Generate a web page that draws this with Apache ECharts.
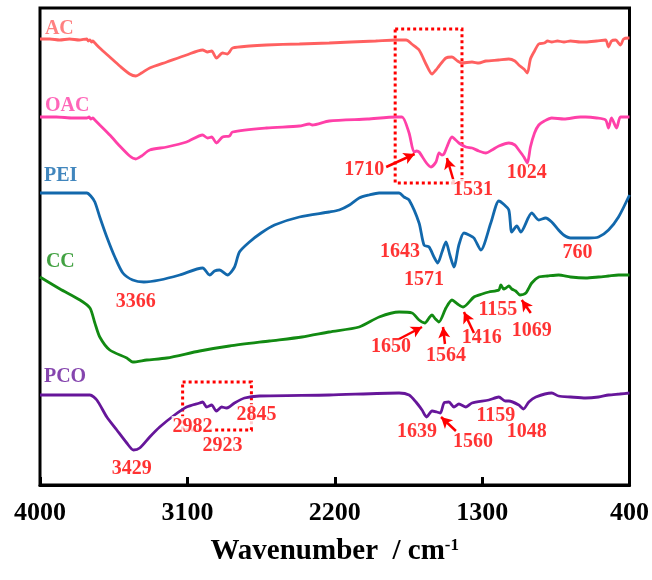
<!DOCTYPE html>
<html><head><meta charset="utf-8">
<script src="https://cdn.jsdelivr.net/npm/echarts@6/dist/echarts.min.js"></script>
<style>html,body{margin:0;padding:0;background:#fff}#c{width:652px;height:580px}</style>
</head><body><div id="c"></div>
<script>
// x ticks (wavenumber, cm-1)
const xTicks = [4000, 3100, 2200, 1300, 400];
const seriesNames = ['AC', 'OAC', 'PEI', 'CC', 'PCO'];

// [wavenumber, offset transmittance]
const acData = [[4000,446],[3940,446],[3880,445],[3820,446],[3760,445],[3714,446],[3705,444],[3695,445],[3685,443],[3677,444],[3665,442],[3635,437],[3574,428],[3513,419],[3452,411],[3415,409],[3380,412],[3330,417],[3226,423],[3105,430],[3007,435],[2977,433],[2952,434],[2922,427],[2885,432],[2855,431],[2843,433],[2824,437],[2720,439],[2617,440],[2416,441],[2234,442],[2100,443],[1950,444],[1825,445],[1764,445],[1730,441],[1685,435],[1640,420],[1606,411],[1582,415],[1563,419],[1521,427],[1484,428],[1450,424],[1424,422],[1362,423],[1320,422],[1277,424],[1200,425],[1137,426],[1100,424],[1076,420],[1045,416],[1024,412],[1005,426],[980,434],[954,441],[920,442],[900,444],[875,443],[840,444],[800,443],[760,444],[700,443],[668,443],[600,444],[546,445],[528,438],[510,444],[485,445],[455,440],[436,446],[406,447],[400,447]];
const oacData = [[4000,368],[3900,368],[3800,367],[3714,367],[3700,368],[3690,366],[3677,367],[3665,365],[3635,360],[3574,350],[3513,339],[3452,329],[3415,326],[3380,329],[3330,335],[3226,338],[3105,343],[3007,350],[2977,347],[2952,348],[2922,342],[2885,348],[2843,349],[2824,353],[2617,357],[2416,359],[2355,361],[2337,360],[2234,364],[2000,366],[1825,368],[1789,368],[1746,352],[1716,333],[1700,334],[1685,333],[1640,322],[1612,318],[1582,323],[1563,332],[1545,330],[1533,331],[1515,338],[1484,348],[1442,342],[1399,338],[1362,337],[1320,334],[1277,332],[1240,335],[1198,339],[1137,342],[1100,340],[1076,335],[1045,328],[1024,322],[1005,338],[980,352],[954,360],[920,364],[875,367],[800,366],[700,368],[668,368],[600,367],[546,365],[528,357],[510,367],[479,357],[455,368],[406,368],[400,368]];
const peiData = [[4000,292],[3800,292],[3714,292],[3690,289],[3665,283],[3635,268],[3592,248],[3543,228],[3494,212],[3434,205],[3366,203],[3269,205],[3147,210],[3007,217],[2964,210],[2934,214],[2904,215],[2855,210],[2812,218],[2782,233],[2721,243],[2650,252],[2568,260],[2416,268],[2234,273],[2173,275],[2110,280],[2051,287],[1990,290],[1929,292],[1807,292],[1777,288],[1746,285],[1685,262],[1655,240],[1624,238],[1594,228],[1571,222],[1545,233],[1521,243],[1497,230],[1472,218],[1442,240],[1411,252],[1380,250],[1350,247],[1308,235],[1247,262],[1198,284],[1170,281],[1137,275],[1119,253],[1088,259],[1064,253],[997,272],[954,265],[912,267],[875,263],[833,255],[802,250],[760,247],[700,247],[650,247],[589,248],[528,255],[467,268],[400,290]];
const ccData = [[4000,208],[3878,196],[3756,185],[3695,177],[3665,162],[3635,148],[3574,135],[3470,127],[3434,123],[3348,125],[3226,127],[3025,134],[2843,139],[2599,144],[2400,148],[2234,153],[2051,158],[1929,168],[1807,173],[1728,172],[1685,165],[1650,162],[1620,168],[1606,170],[1585,166],[1564,163],[1521,177],[1484,185],[1450,181],[1416,178],[1350,188],[1300,191],[1259,193],[1198,195],[1186,200],[1168,196],[1155,197],[1137,199],[1119,196],[1095,194],[1069,190],[1033,192],[997,202],[954,208],[900,209],[833,210],[760,208],[668,207],[589,208],[528,209],[467,210],[400,210]];
const pcoData = [[4000,90],[3800,90],[3695,90],[3653,85],[3592,68],[3531,55],[3470,42],[3429,35],[3391,37],[3330,48],[3269,58],[3178,70],[3105,78],[3025,82],[3007,83],[2982,78],[2952,80],[2923,74],[2891,78],[2861,77],[2845,78],[2812,82],[2751,87],[2660,89],[2234,90],[1807,92],[1746,90],[1704,83],[1667,75],[1639,68],[1606,74],[1576,73],[1555,72],[1533,82],[1503,83],[1472,78],[1442,81],[1399,78],[1362,82],[1259,85],[1198,88],[1159,84],[1137,84],[1076,80],[1048,76],[1015,83],[972,88],[875,92],[833,89],[760,88],[668,87],[589,88],[528,90],[460,91],[400,92]];

// annotations: [text, wavenumber, value, whiteBackground]
const peakLabels = [['1710',2020,315,0],['1531',1356,295,1],['1024',1027,312,0],['1643',1801,233,0],['1571',1655,205,0],['760',717,232,0],['3366',3415,183,0],['1650',1856,138,0],['1564',1521,129,0],['1416',1302,147,0],['1155',1204,175,0],['1069',997,154,0],['2982',3068,58,1],['2923',2885,39,0],['2845',2678,70,1],['3429',3440,16,0],['1639',1697,53,0],['1560',1356,43,0],['1159',1216,69,0],['1048',1027,53,0]];
const nameLabels = [['AC',3970,456],['OAC',3970,379],['PEI',3976,309],['CC',3964,223],['PCO',3976,108]];
// arrows: [fromW, fromV, toW, toV]
const arrows = [[1886,318,1712,331],[1472,303,1515,327],[1807,146,1667,158],[1527,141,1539,158],[1350,152,1411,173],[1003,172,1058,185],[1460,54,1551,68]];
// dotted boxes: [w1, v1, w2, v2]
const boxes = [[1831,456,1423,302],[3129,103,2709,55]];

const colors = ['#FF6060', '#FF40A8', '#1268AC', '#128A12', '#66169A'];
const dataSets = [acData, oacData, peiData, ccData, pcoData];
const FONT = '"Liberation Serif", "Times New Roman", serif';

const chart = echarts.init(document.getElementById('c'), null, {renderer: 'canvas'});
const series = dataSets.map((d, i) => ({
  type: 'line', name: seriesNames[i], data: d, showSymbol: false, smooth: 0.25,
  lineStyle: {color: colors[i], width: 2.8}, itemStyle: {color: colors[i]}, z: 3, silent: true
}));
// markers (arrows + dotted boxes) on a low-z empty-looking series
series.push({
  type: 'scatter', symbolSize: 0, silent: true, z: 2,
  data: [[4000, 0]],
  markLine: {
    silent: true, animation: false, symbol: ['none', 'arrow'], symbolSize: [9, 11],
    label: {show: false},
    lineStyle: {color: '#FF0000', width: 2.5, type: 'solid'},
    data: arrows.map(a => [{coord: [a[0], a[1]]}, {coord: [a[2], a[3]]}])
  },
  markArea: {
    silent: true, animation: false,
    itemStyle: {color: 'rgba(0,0,0,0)', borderColor: '#FF0000', borderWidth: 3, borderType: 'dotted'},
    data: boxes.map(b => [{coord: [b[0], b[1]]}, {coord: [b[2], b[3]]}])
  }
});
// text labels on top
series.push({
  type: 'scatter', symbolSize: 0, silent: true, z: 20, zlevel: 1,
  data: peakLabels.map(p => ({name: p[0], value: [p[1], p[2]],
      label: p[3] ? {backgroundColor: '#ffffff', padding: [1, 1]} : {}})).concat(
    nameLabels.map((p, i) => ({name: p[0], value: [p[1], p[2]],
      label: {align: 'left', color: colors[i]}}))),
  label: {show: true, position: [0, 0], align: 'center', verticalAlign: 'middle',
    formatter: '{b}', fontFamily: FONT, fontWeight: 'bold', fontSize: 20, color: '#FF0000'}
});

chart.setOption({
  animation: false,
  backgroundColor: '#fff',
  grid: {left: 40, right: 20, top: 8, bottom: 95, show: true, borderColor: '#000', borderWidth: 3, backgroundColor: 'transparent'},
  xAxis: {
    type: 'value', inverse: true, min: 400, max: 4000,
    axisLine: {show: true, lineStyle: {color: '#000', width: 3}},
    axisTick: {show: true, inside: true, length: 8, customValues: xTicks, lineStyle: {color: '#000', width: 3}},
    axisLabel: {customValues: xTicks, formatter: v => String(v), fontFamily: FONT, fontWeight: 'bold', fontSize: 26, color: '#000', margin: 15},
    splitLine: {show: false},
    name: '{t|Wavenumber  / cm}{s|-1}', nameLocation: 'middle', nameGap: 52,
    nameTextStyle: {rich: {
      t: {fontFamily: FONT, fontWeight: 'bold', fontSize: 29, color: '#000'},
      s: {fontFamily: FONT, fontWeight: 'bold', fontSize: 17, color: '#000', verticalAlign: 'top'}
    }}
  },
  yAxis: {type: 'value', min: 0, max: 477, show: false},
  series: series
});
</script></body></html>
